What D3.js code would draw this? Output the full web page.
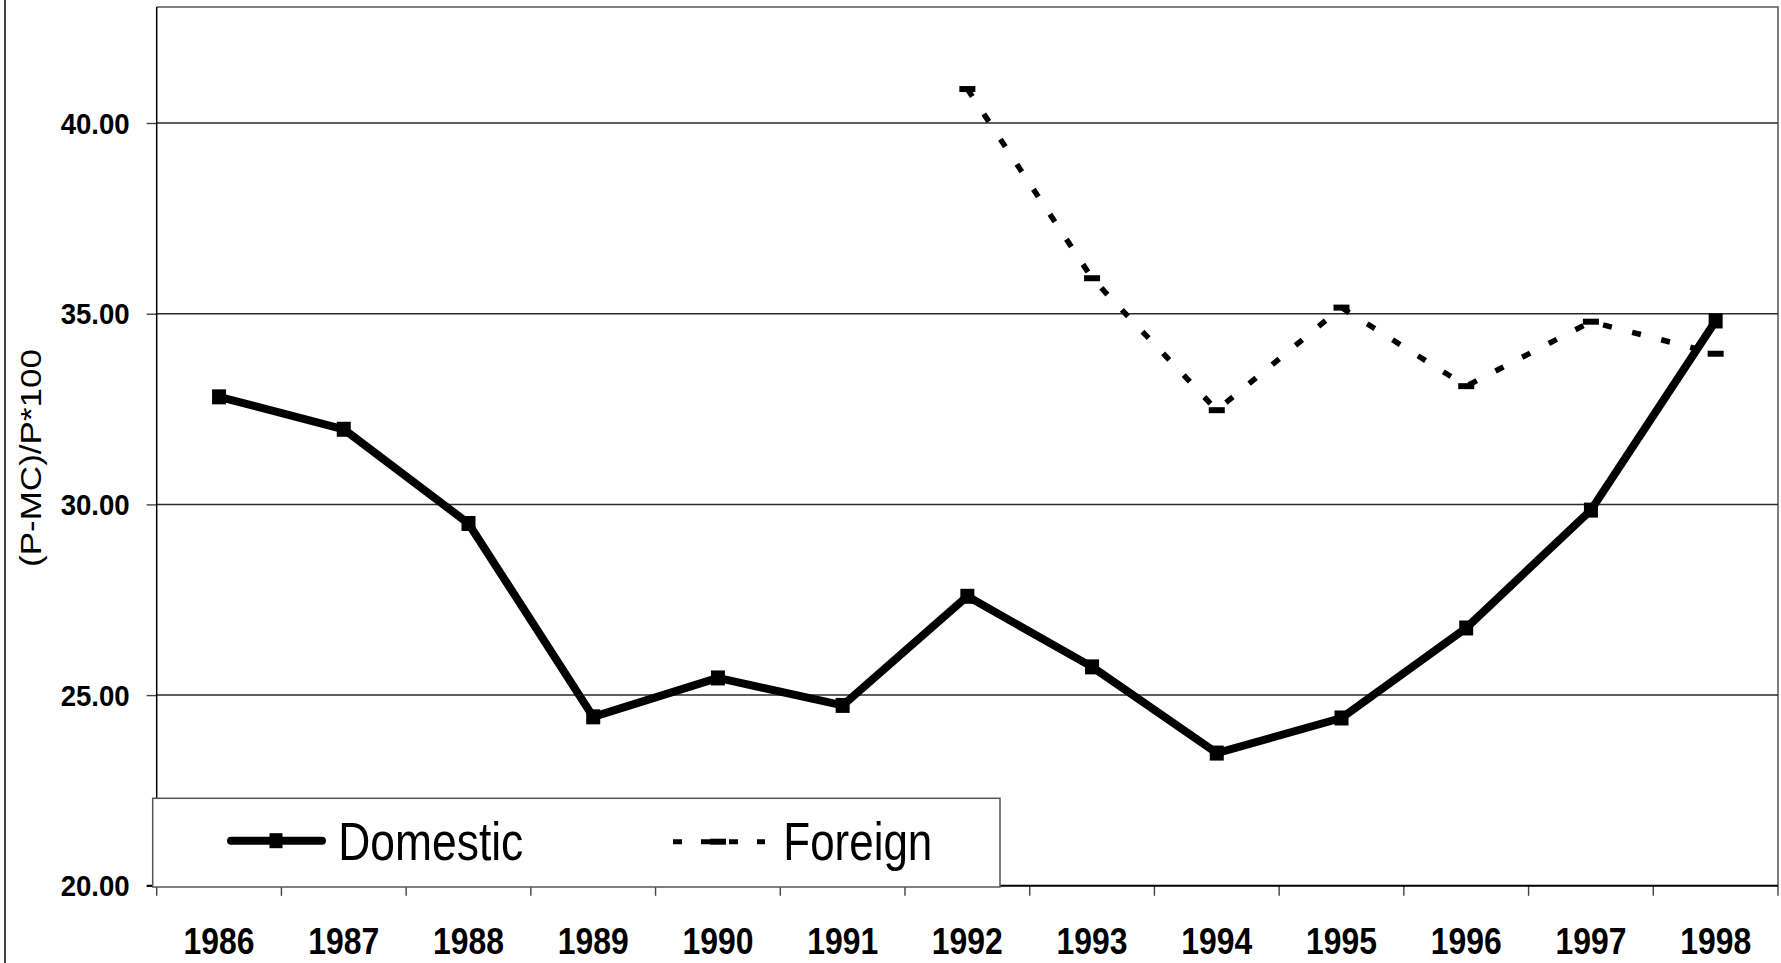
<!DOCTYPE html>
<html>
<head>
<meta charset="utf-8">
<script src="https://cdn.jsdelivr.net/npm/d3@7"></script>
<style>
  html, body { margin: 0; padding: 0; background: #fff; }
  svg { display: block; }
  text { font-family: "Liberation Sans", Arial, sans-serif; fill: #000; }
</style>
</head>
<body>
<svg id="chart" width="1781" height="963"></svg>
<script>
// Price-cost margin by year, domestic vs foreign firms
const years = ["1986", "1987", "1988", "1989", "1990", "1991", "1992",
               "1993", "1994", "1995", "1996", "1997", "1998"];
const domestic = [32.82, 31.97, 29.50, 24.43, 25.45, 24.73, 27.59,
                  25.74, 23.48, 24.40, 26.76, 29.85, 34.81];
const foreign = [null, null, null, null, null, null, 40.89,
                 35.93, 32.47, 35.16, 33.10, 34.79, 33.95];
const yTicks = [20, 25, 30, 35, 40];
const yTitle = "(P-MC)/P*100";
const seriesNames = ["Domestic", "Foreign"];

const svg = d3.select("#chart");
const W = 1781, H = 963;
const plot = { left: 156.7, right: 1778, top: 7, bottom: 885.8 };

const x = d3.scaleBand().domain(years).range([plot.left, plot.right]).padding(0);
const y = d3.scaleLinear().domain([20, 40]).range([plot.bottom, 123]);
const cx = d => x(d) + x.bandwidth() / 2;

// outer chart frame edge
svg.append("line")
  .attr("x1", 5).attr("x2", 5).attr("y1", 0).attr("y2", H)
  .attr("stroke", "#444").attr("stroke-width", 2);

// plot area frame (top and right)
svg.append("path")
  .attr("d", `M${plot.left},${plot.top}H${plot.right}V${plot.bottom}`)
  .attr("fill", "none").attr("stroke", "#555").attr("stroke-width", 1.5);

// horizontal gridlines
svg.append("g").selectAll("line")
  .data(yTicks.filter(v => v > 20))
  .join("line")
  .attr("x1", plot.left).attr("x2", plot.right)
  .attr("y1", d => y(d)).attr("y2", d => y(d))
  .attr("stroke", "#2a2a2a").attr("stroke-width", 1.5);

// y axis
const yAxis = d3.axisLeft(y)
  .tickValues(yTicks)
  .tickFormat(d3.format(".2f"))
  .tickSizeInner(10).tickSizeOuter(0).tickPadding(17);
const gy = svg.append("g")
  .attr("transform", `translate(${plot.left},0)`)
  .call(yAxis);
gy.select(".domain").remove();
gy.append("line")
  .attr("x1", 0).attr("x2", 0).attr("y1", plot.top).attr("y2", plot.bottom)
  .attr("stroke", "#000").attr("stroke-width", 1.5);
gy.selectAll(".tick line").attr("stroke", "#444").attr("stroke-width", 1.4);
gy.selectAll(".tick text")
  .attr("font-family", "'Liberation Sans', Arial, sans-serif")
  .attr("font-size", 29).attr("font-weight", "bold")
  .attr("dy", "0.35em")
  .attr("textLength", 69).attr("lengthAdjust", "spacingAndGlyphs");

// x axis: labels at category centers, tick marks between categories
const xAxis = d3.axisBottom(x).tickSize(0).tickPadding(0);
const gx = svg.append("g")
  .attr("transform", `translate(0,${plot.bottom})`)
  .call(xAxis);
gx.select(".domain").remove();
gx.selectAll(".tick text")
  .attr("font-family", "'Liberation Sans', Arial, sans-serif")
  .attr("font-size", 37).attr("font-weight", "bold")
  .attr("y", 68).attr("dy", 0)
  .attr("textLength", 71).attr("lengthAdjust", "spacingAndGlyphs");

const boundaries = years.map(d => x(d)).concat([plot.right]);
svg.append("g").selectAll("line")
  .data(boundaries)
  .join("line")
  .attr("x1", d => d).attr("x2", d => d)
  .attr("y1", plot.bottom).attr("y2", plot.bottom + 10)
  .attr("stroke", "#444").attr("stroke-width", 1.4);
svg.append("line")
  .attr("x1", plot.left - 10).attr("x2", plot.right)
  .attr("y1", plot.bottom).attr("y2", plot.bottom)
  .attr("stroke", "#000").attr("stroke-width", 2);

// y axis title
svg.append("text")
  .attr("transform", "translate(40.7,458) rotate(-90)")
  .attr("text-anchor", "middle")
  .attr("font-size", 29)
  .attr("textLength", 218).attr("lengthAdjust", "spacingAndGlyphs")
  .text(yTitle);

// series lines
const line = d3.line()
  .defined(d => d.v != null)
  .x(d => cx(d.year))
  .y(d => y(d.v));

const domData = years.map((yr, i) => ({ year: yr, v: domestic[i] }));
const forData = years.map((yr, i) => ({ year: yr, v: foreign[i] }));

svg.append("path")
  .datum(forData)
  .attr("d", line)
  .attr("fill", "none").attr("stroke", "#000")
  .attr("stroke-width", 5.5).attr("stroke-dasharray", "9,21");

svg.append("g").selectAll("rect")
  .data(forData.filter(d => d.v != null))
  .join("rect")
  .attr("x", d => cx(d.year) - 8).attr("y", d => y(d.v) - 3)
  .attr("width", 16).attr("height", 6)
  .attr("fill", "#000");

svg.append("path")
  .datum(domData)
  .attr("d", line)
  .attr("fill", "none").attr("stroke", "#000")
  .attr("stroke-width", 8).attr("stroke-linejoin", "round");

svg.append("g").selectAll("rect")
  .data(domData)
  .join("rect")
  .attr("x", d => cx(d.year) - 7).attr("y", d => y(d.v) - 7.5)
  .attr("width", 14).attr("height", 15)
  .attr("fill", "#000");

// legend
const lg = svg.append("g");
lg.append("rect")
  .attr("x", 152.7).attr("y", 798.3)
  .attr("width", 1000 - 152.7).attr("height", 887 - 798.3)
  .attr("fill", "#fff").attr("stroke", "#555").attr("stroke-width", 1.5);

const legY = 840.7;
lg.append("line")
  .attr("x1", 231).attr("x2", 322).attr("y1", legY).attr("y2", legY)
  .attr("stroke", "#000").attr("stroke-width", 8).attr("stroke-linecap", "round");
lg.append("rect")
  .attr("x", 276 - 6.5).attr("y", legY - 7.5).attr("width", 13).attr("height", 15)
  .attr("fill", "#000");
lg.append("text")
  .attr("x", 338.3).attr("y", 860)
  .attr("font-size", 53)
  .attr("textLength", 185).attr("lengthAdjust", "spacingAndGlyphs")
  .text(seriesNames[0]);

lg.append("line")
  .attr("x1", 673).attr("x2", 765).attr("y1", legY + 1).attr("y2", legY + 1)
  .attr("stroke", "#000").attr("stroke-width", 5).attr("stroke-dasharray", "9,19");
lg.append("rect")
  .attr("x", 718 - 8).attr("y", legY - 2).attr("width", 16).attr("height", 6)
  .attr("fill", "#000");
lg.append("text")
  .attr("x", 783.3).attr("y", 860)
  .attr("font-size", 53)
  .attr("textLength", 149).attr("lengthAdjust", "spacingAndGlyphs")
  .text(seriesNames[1]);
</script>
</body>
</html>
